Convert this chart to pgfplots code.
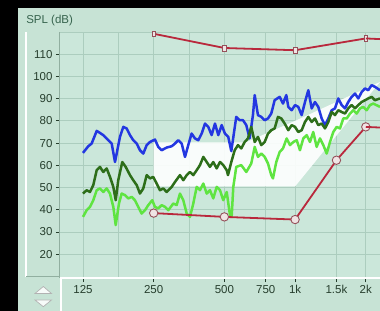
\documentclass[border=0pt]{standalone}
\usepackage{pgfplots}
\pgfplotsset{compat=1.18}
\usepackage{fontspec}
\setmainfont{Liberation Sans}
\definecolor{panel}{RGB}{199,227,213}
\definecolor{plotbg}{RGB}{203,231,218}
\definecolor{gridc}{RGB}{172,205,190}
\definecolor{axisc}{RGB}{145,175,160}
\definecolor{labc}{RGB}{38,62,45}
\definecolor{titc}{RGB}{55,100,78}
\definecolor{cblue}{RGB}{35,55,225}
\definecolor{cdark}{RGB}{45,110,25}
\definecolor{clight}{RGB}{95,228,65}
\definecolor{cred}{RGB}{185,40,60}
\definecolor{mfill}{RGB}{240,228,228}
\definecolor{mdraw}{RGB}{150,80,90}
\begin{document}
\begin{tikzpicture}
\useasboundingbox (0bp,0bp) rectangle (380bp,311bp);
\fill[panel] (0bp,0bp) rectangle (380bp,311bp);
\fill[black] (0bp,303bp) rectangle (380bp,311bp);
\fill[black] (0bp,0bp) rectangle (18bp,311bp);
\draw[white, line width=1.2bp] (26bp,279bp) -- (26bp,34bp);
\draw[axisc, line width=1bp] (26bp,34bp) -- (60bp,34bp);
\draw[white, line width=1.2bp] (61bp,33bp) -- (61bp,0bp);
% scroll widget
\draw[gray!60, fill=white!85!panel, line width=0.7bp] (35bp,17.5bp) -- (51.5bp,17.5bp) -- (43.3bp,24.5bp) -- cycle;
\draw[gray!60, fill=white!85!panel, line width=0.7bp] (35bp,11bp) -- (51.5bp,11bp) -- (43.3bp,4.3bp) -- cycle;
\begin{axis}[
  at={(60bp,33bp)}, anchor=south west,
  scale only axis, width=320bp, height=246bp,
  xmin=-0.325, xmax=4.201, ymin=9.3, ymax=120,
  axis background/.style={fill=plotbg},
  axis x line=bottom, axis y line=left,
  x axis line style={-, white, line width=1.5bp},
  y axis line style={-, axisc, line width=1bp},
  tick align=outside, major tick length=4bp, minor tick length=0bp,
  tick style={labc, line width=0.8bp},
  xtick={0,1,2,2.585,3,3.585,4},
  xticklabels={125,250,500,750,1k,1.5k,2k},
  minor xtick={0.5,1.5},
  ytick={20,30,40,50,60,70,80,90,100,110},
  yticklabels={20,30,40,50,60,70,80,90,100,110},
  extra y ticks={120}, extra y tick labels={}, extra y tick style={major tick length=0bp},
  grid=both,
  major grid style={gridc, line width=0.8bp},
  minor grid style={gridc, line width=0.8bp},
  ticklabel style={font=\fontsize{11.5bp}{13bp}\selectfont, text=labc},
  ylabel={SPL (dB)},
  ylabel style={rotate=-90, at={(axis description cs:-0.106,1.035)}, anchor=base west, inner sep=0pt, font=\fontsize{11.5bp}{13bp}\selectfont, text=titc},
  clip mode=individual,
]
% target region
\addplot[draw=none, fill=white, fill opacity=0.9] coordinates {
(1.0,50.5) (3.0,50.5) (4.201,97.5) (3.0,80) (2.3,70.3) (1.0,70.3)} -- cycle;
% blue
\addplot[cblue, line width=2.5bp, line join=round] coordinates {
(0.00,65.6) (0.075,68.6) (0.123,69.8) (0.194,75.5) (0.240,74.6) (0.287,73.6) (0.358,71.3) (0.406,69.8) (0.453,61.5) (0.523,72.8) (0.570,77.3) (0.618,76.6) (0.665,73.6) (0.711,71.3) (0.760,69.8) (0.806,66.8) (0.853,65.3) (0.901,69.1) (0.948,70.5) (1.018,71.6) (1.065,68.3) (1.113,66.8) (1.184,68.0) (1.255,68.6) (1.301,69.8) (1.348,71.3) (1.396,69.8) (1.443,63.8) (1.489,69.1) (1.537,74.3) (1.584,72.1) (1.631,71.3) (1.679,74.3) (1.726,78.8) (1.772,77.3) (1.820,73.6) (1.867,78.8) (1.914,73.6) (1.962,78.1) (2.008,74.3) (2.055,72.8) (2.098,66.4) (2.168,81.8) (2.216,80.3) (2.263,80.3) (2.310,78.1) (2.357,72.1) (2.404,82.6) (2.429,91.6) (2.475,82.6) (2.522,81.8) (2.570,80.3) (2.617,81.1) (2.663,83.3) (2.711,89.3) (2.782,90.8) (2.829,87.8) (2.876,91.6) (2.904,86.3) (2.952,84.8) (2.999,87.1) (3.045,86.3) (3.093,82.6) (3.140,88.5) (3.187,93.8) (3.235,85.6) (3.281,88.5) (3.328,86.3) (3.376,81.1) (3.423,78.1) (3.470,81.1) (3.518,84.8) (3.564,85.6) (3.611,90.1) (3.659,87.1) (3.706,85.6) (3.752,88.5) (3.800,90.8) (3.847,92.3) (3.894,90.1) (3.942,93.0) (3.989,94.6) (4.035,93.8) (4.083,96.1) (4.130,95.3) (4.201,93.8)};
% dark green
\addplot[cdark, line width=2.5bp, line join=round] coordinates {
(0.00,47.3) (0.052,48.8) (0.099,48.0) (0.146,51.1) (0.194,57.8) (0.240,59.3) (0.287,57.0) (0.335,58.6) (0.382,54.8) (0.429,50.3) (0.463,44.3) (0.499,53.3) (0.556,61.5) (0.604,59.3) (0.665,55.6) (0.711,53.3) (0.760,51.1) (0.806,47.3) (0.853,49.6) (0.901,55.6) (0.948,54.1) (0.994,54.8) (1.042,51.8) (1.089,48.8) (1.136,49.6) (1.184,48.0) (1.255,50.3) (1.301,52.5) (1.372,55.6) (1.419,53.3) (1.467,55.6) (1.513,57.0) (1.560,55.6) (1.608,57.8) (1.655,60.1) (1.702,63.8) (1.750,61.5) (1.796,59.3) (1.843,61.5) (1.891,58.6) (1.938,61.5) (1.984,60.1) (2.033,57.8) (2.051,55.6) (2.098,61.5) (2.146,66.8) (2.192,69.1) (2.239,67.6) (2.287,70.5) (2.334,72.1) (2.380,77.3) (2.429,70.5) (2.475,72.8) (2.522,69.1) (2.570,70.5) (2.617,74.3) (2.663,75.8) (2.711,76.6) (2.758,81.8) (2.805,81.1) (2.853,78.8) (2.904,75.8) (2.952,78.1) (2.999,77.3) (3.045,75.0) (3.093,75.8) (3.140,79.5) (3.187,81.8) (3.235,79.5) (3.281,81.1) (3.328,78.1) (3.376,78.8) (3.423,76.6) (3.470,79.5) (3.518,84.0) (3.564,82.6) (3.611,84.8) (3.659,84.0) (3.706,83.3) (3.752,85.6) (3.800,87.1) (3.847,85.6) (3.894,87.1) (3.942,88.5) (3.989,89.3) (4.035,90.1) (4.083,90.8) (4.130,89.3) (4.201,90.1)};
% light green
\addplot[clight, line width=2.5bp, line join=round] coordinates {
(0.00,36.8) (0.052,39.8) (0.099,41.3) (0.146,44.3) (0.194,48.8) (0.240,49.6) (0.287,48.0) (0.335,49.6) (0.382,47.3) (0.429,41.3) (0.463,33.1) (0.509,42.8) (0.547,47.3) (0.594,46.6) (0.641,45.1) (0.689,45.8) (0.735,44.3) (0.782,41.3) (0.830,38.3) (0.877,39.8) (0.924,42.1) (0.980,44.3) (1.018,41.3) (1.065,40.6) (1.113,42.1) (1.160,41.3) (1.207,39.8) (1.277,42.8) (1.325,42.1) (1.372,47.3) (1.419,44.3) (1.467,38.3) (1.513,36.8) (1.560,42.8) (1.608,50.3) (1.655,48.8) (1.702,51.8) (1.750,47.3) (1.796,48.8) (1.843,45.1) (1.891,50.3) (1.938,48.8) (1.984,44.3) (2.033,48.0) (2.079,37.6) (2.103,36.8) (2.126,50.3) (2.168,59.3) (2.239,60.1) (2.310,57.0) (2.380,60.8) (2.429,68.3) (2.475,63.8) (2.522,65.3) (2.570,63.8) (2.617,60.8) (2.663,55.6) (2.687,54.1) (2.734,61.5) (2.782,66.0) (2.829,67.6) (2.881,72.1) (2.928,69.1) (2.975,70.5) (3.023,71.3) (3.069,66.8) (3.116,72.1) (3.164,73.6) (3.211,70.5) (3.257,75.0) (3.305,68.3) (3.352,72.1) (3.399,69.1) (3.447,65.3) (3.494,70.5) (3.540,75.0) (3.588,77.3) (3.635,76.6) (3.682,81.1) (3.730,81.1) (3.777,83.3) (3.823,84.8) (3.871,83.3) (3.918,85.6) (3.965,86.3) (4.013,84.8) (4.059,87.1) (4.106,87.8) (4.201,86.3)};
% red upper
\addplot[cred, line width=1.8bp, mark=square*, mark size=2.6bp,
  mark options={xscale=0.7, yscale=1.1, fill=mfill, draw=mdraw, line width=0.7bp}] coordinates {
(1,119.2) (2,112.8) (3,111.8) (4,117.1)};
\addplot[cred, line width=1.8bp] coordinates {(4,117.1) (4.201,116.8)};
% red lower
\addplot[cred, line width=1.8bp, mark=*, mark size=4.2bp,
  mark options={fill=mfill, draw=mdraw, line width=0.9bp}] coordinates {
(1,38.5) (2,36.8) (3,35.6) (3.585,62.3) (4,77.3)};
\addplot[cred, line width=1.8bp] coordinates {(4,77.3) (4.201,77.0)};
\end{axis}
\end{tikzpicture}
\end{document}
